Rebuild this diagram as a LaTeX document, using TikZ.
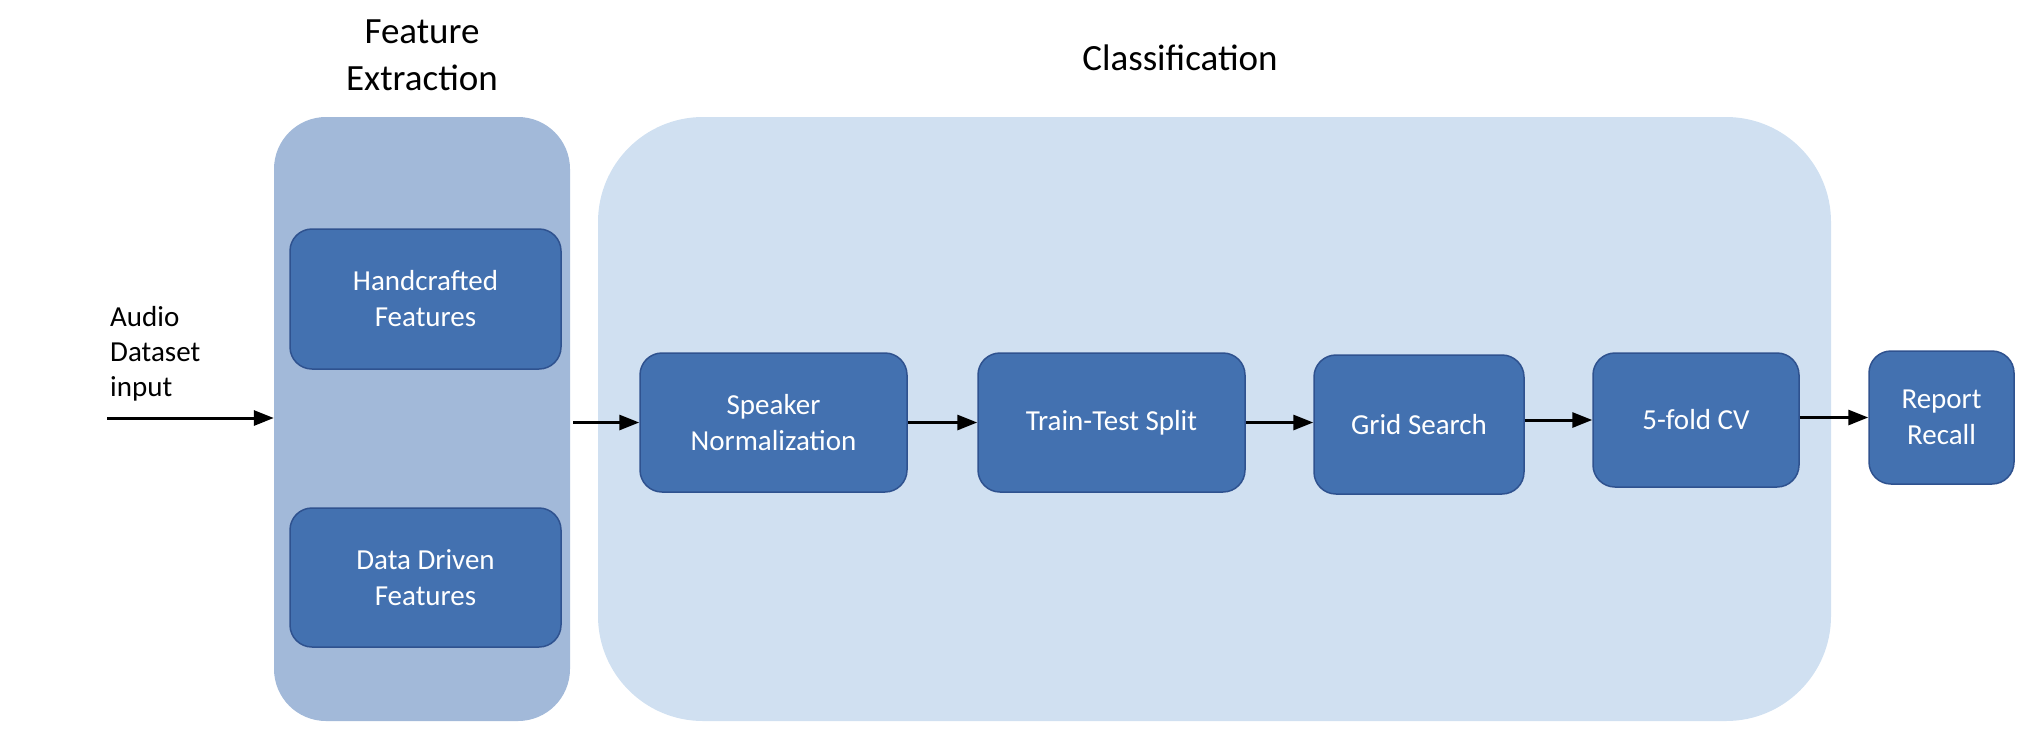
\documentclass[tikz,border=0pt]{standalone}
\usepackage{fontspec}
\setmainfont{Carlito}
\usetikzlibrary{arrows.meta}
\definecolor{featfill}{HTML}{A2B9D9}
\definecolor{classfill}{HTML}{D0E0F1}
\definecolor{boxfill}{HTML}{4371B0}
\definecolor{boxdraw}{HTML}{2F528F}
\tikzset{
  x=1pt,y=-1pt,
  blockbox/.style={draw=boxdraw, line width=1.5pt, fill=boxfill, rounded corners=22pt,
    text=white, align=center, font=\fontsize{29}{36}\selectfont, inner sep=0pt},
  flow/.style={line width=3pt, -{Triangle[length=20pt,width=15pt]}},
  title/.style={align=center, font=\fontsize{37}{47}\selectfont, text=black},
}
\begin{document}
\begin{tikzpicture}
\useasboundingbox (0,0) rectangle (2018,740);
% group boxes
\node[fill=featfill, rounded corners=52pt, minimum width=296pt, minimum height=604pt, inner sep=0pt] (feat) at (422,419) {};
\node[fill=classfill, rounded corners=105pt, minimum width=1233pt, minimum height=604pt, inner sep=0pt] (cls) at (1214.5,419) {};
% titles
\node[title] (feattitle) at (422,55) {Feature\\Extraction};
\node[title] (clstitle) at (1180,58) {Classification};
% blocks
\node[blockbox, minimum width=271pt, minimum height=140pt] (hand) at (425.5,299) {Handcrafted\\Features};
\node[blockbox, minimum width=271pt, minimum height=139pt] (data) at (425.5,577.5) {Data Driven\\Features};
\node[blockbox, minimum width=267pt, minimum height=139pt] (spk) at (773.5,422.5) {Speaker\\Normalization};
\node[blockbox, minimum width=267pt, minimum height=139pt] (tts) at (1111.5,422.5) {Train-Test Split};
\node[blockbox, minimum width=210pt, minimum height=139pt] (grid) at (1419,424.5) {Grid Search};
\node[blockbox, minimum width=206pt, minimum height=134pt] (cv) at (1696,420) {5-fold CV};
\node[blockbox, minimum width=145pt, minimum height=133pt] (rep) at (1941.5,417.5) {Report\\Recall};
% input text
\node[anchor=north west, align=left, inner sep=0pt, font=\fontsize{29}{35}\selectfont] (audio) at (110,306) {Audio\\Dataset\\input};
\coordinate (inp) at (107,418);
% arrows
\draw[flow] (inp) -- (inp -| feat.west);
\draw[flow, shorten <=3pt] (feat.east |- spk.west) -- (spk.west);
\draw[flow] (spk.east) -- (tts.west);
\draw[flow] (tts.east) -- (tts.east -| grid.west);
\draw[flow] (grid.east |- cv.west) -- (cv.west);
\draw[flow] (cv.east |- rep.west) -- (rep.west);
\end{tikzpicture}
\end{document}
